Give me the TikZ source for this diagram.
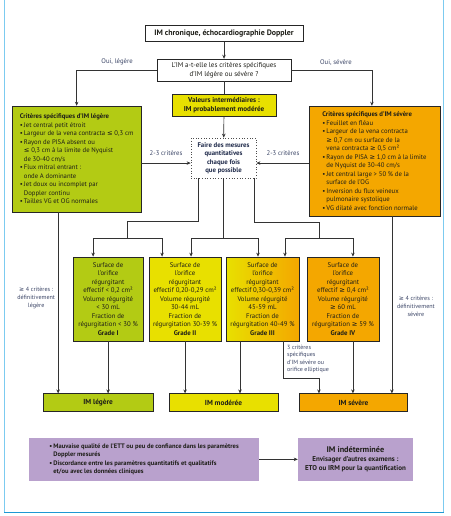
\documentclass[tikz,border=0pt]{standalone}
\usepackage{fontspec}
\setmainfont{PT Sans}
\newfontfamily\symfont{DejaVu Sans}
\usepackage{tikz}
\usetikzlibrary{arrows.meta}

\definecolor{imgreen}{HTML}{B3CB14}
\definecolor{imyellow}{HTML}{E8E000}
\definecolor{imorange}{HTML}{F4A700}
\definecolor{impurple}{HTML}{B9A1CD}
\definecolor{imframe}{HTML}{7CCBF0}
\definecolor{imframedark}{HTML}{1E98D3}
\definecolor{imtext}{HTML}{1E1E18}
\definecolor{imnavy}{HTML}{1F2A4A}
\definecolor{imlabel}{HTML}{3B4566}

\newcommand{\sge}{{\symfont ≥}}
\newcommand{\sle}{{\symfont ≤}}
\newcommand{\bul}{\textbullet\,}
\newcommand{\ind}{\phantom{\textbullet\,}}

\begin{document}
\begin{tikzpicture}[x=1pt, y=-1pt,
		imbox/.style={draw=black!85, line width=0.7pt, inner sep=2pt, text=imtext, font=\fontsize{6.7}{8.5}\selectfont},
		critbox/.style={imbox, align=left},
		gradebox/.style={imbox, align=center, minimum height=84pt, font=\fontsize{6.8}{8.5}\selectfont},
		resbox/.style={imbox, line width=0.9pt, minimum width=109pt, minimum height=18pt, font=\bfseries\fontsize{7.3}{8}\selectfont},
		purplebox/.style={fill=impurple, text=imtext, inner sep=2pt, minimum height=43pt, font=\bfseries\fontsize{6.5}{8.5}\selectfont},
		lbl/.style={text=imlabel, inner sep=0pt, font=\fontsize{6.7}{7.5}\selectfont},
		wire/.style={draw=black!80, line width=0.7pt},
		arr/.style={wire, -{Stealth[length=4pt, width=3.5pt]}}]
		\draw[use as bounding box, transparent] (0,0) rectangle (450,516);

		% FRAME
		\draw[imframe, line width=1.2pt] (4,-5) -- (4,513) -- (444,513) -- (444,-5);
		\draw[imframedark, line width=1.2pt] (4,513) -- (444,513);

		% Grade box.
		% 1st argument: node name, 2nd: fill options, 3rd: x centre, 4th: width
		% 5th-7th: effective surface, volume, fraction, 8th: grade number
		\newcommand{\gradeBox}[8]{
			\node[gradebox, #2, minimum width=#4] (#1) at (#3,299) {Surface de\\l'orifice\\régurgitant\\effectif #5\\Volume régurgité\\#6\\Fraction de\\régurgitation #7\\\textbf{Grade #8}};
		}

		% TOP
		\node[imbox, font=\bfseries\fontsize{7.9}{8}\selectfont, minimum width=158pt, minimum height=16pt] (chron) at (224,33) {IM chronique, échocardiographie Doppler};
		\node[imbox, align=center, font=\fontsize{7}{9}\selectfont, minimum width=134pt, minimum height=22pt] (quest) at (224,70) {L'IM a-t-elle les critères spécifiques\\d'IM légère ou sévère ?};
		\node[imbox, fill=imyellow, align=center, font=\bfseries\fontsize{7.1}{8.3}\selectfont, minimum width=104pt, minimum height=22pt] (interm) at (224,105) {Valeurs intermédiaires :\\IM probablement modérée};
		\node[imbox, draw=black!70, dotted, line width=0.8pt, align=center, text=imnavy, font=\bfseries\fontsize{6.8}{8.5}\selectfont, minimum width=65pt, minimum height=40pt] (mesure) at (223.5,158) {Faire des mesures\\quantitatives\\chaque fois\\que possible};

		\node[lbl] (ouileg) at (117,62) {Oui, légère};
		\node[lbl] (ouisev) at (336,62) {Oui, sévère};

		% SPECIFIC CRITERIA
		\node[critbox, fill=imgreen, minimum width=129pt, minimum height=106pt] (legcrit) at (76.5,159) {\textbf{Critères spécifiques d'IM légère}\\
			\bul Jet central petit étroit\\
			\bul Largeur de la vena contracta \sle{} 0,3 cm\\
			\bul Rayon de PISA absent ou\\
			\ind\sle{} 0,3 cm à la limite de Nyquist\\
			\ind de 30-40 cm/s\\
			\bul Flux mitral entrant :\\
			\ind onde A dominante\\
			\bul Jet doux ou incomplet par\\
			\ind Doppler continu\\
			\bul Tailles VG et OG normales};
		\node[critbox, fill=imorange, minimum width=131pt, minimum height=110pt] (sevcrit) at (374.5,161) {\textbf{Critères spécifiques d'IM sévère}\\
			\bul Feuillet en fléau\\
			\bul Largeur de la vena contracta\\
			\ind\sge{} 0,7 cm ou surface de la\\
			\ind vena contracta \sge{} 0,5 cm²\\
			\bul Rayon de PISA \sge{} 1,0 cm à la limite\\
			\ind de Nyquist de 30-40 cm/s\\
			\bul Jet central large > 50 \% de la\\
			\ind surface de l'OG\\
			\bul Inversion du flux veineux\\
			\ind pulmonaire systolique\\
			\bul VG dilaté avec fonction normale};

		\node[lbl] (critg) at (166,153) {2-3 critères};
		\node[lbl] (critd) at (283,153) {2-3 critères};

		% GRADES
		\gradeBox{gI}{fill=imgreen}{108}{70pt}{< 0,2 cm²}{< 30 mL}{< 30 \%}{I}
		\gradeBox{gII}{fill=imyellow}{185}{72pt}{0,20-0,29 cm²}{30-44 mL}{30-39 \%}{II}
		\gradeBox{gIII}{left color=imyellow, right color=imorange}{262.5}{73pt}{0,30-0,39 cm²}{45-59 mL}{40-49 \%}{III}
		\gradeBox{gIV}{fill=imorange}{343}{72pt}{\sge{} 0,4 cm²}{\sge{} 60 mL}{\sge{} 59 \%}{IV}

		\node[lbl, align=center, font=\fontsize{6.1}{8}\selectfont] (defleg) at (36,298) {\sge{} 4 critères :\\définitivement\\légère};
		\node[lbl, align=center, font=\fontsize{6.1}{8}\selectfont] (defsev) at (416,306) {\sge{} 4 critères :\\définitivement\\sévère};
		\node[lbl, align=left, anchor=north west, font=\fontsize{6}{7.5}\selectfont] (ellip) at (287,345) {3 critères\\spécifiques\\d'IM sévère ou\\orifice elliptique};

		% RESULTS
		\node[resbox, fill=imgreen, minimum width=110pt] (resleg) at (98,403) {IM légère};
		\node[resbox, fill=imyellow] (resmod) at (223.5,403) {IM modérée};
		\node[resbox, fill=imorange] (ressev) at (353.5,403) {IM sévère};

		% UNDETERMINED
		\node[purplebox, minimum width=230pt, align=left] (doute) at (144,459.5) {\bul Mauvaise qualité de l'ETT ou peu de confiance dans les paramètres\\\ind Doppler mesurés\\\bul Discordance entre les paramètres quantitatifs et qualitatifs\\\ind et/ou avec les données cliniques};
		\node[purplebox, minimum width=115pt, align=center, font=\bfseries\fontsize{7}{8.7}\selectfont] (indet) at (355.5,459.5) {{\fontsize{8.2}{9}\selectfont IM indéterminée}\\Envisager d'autres examens :\\ETO ou IRM pour la quantification};

		% CONNECTORS
		\draw[arr] (chron) -- (quest);
		\draw[arr] (quest.west) -| (legcrit.north);
		\draw[arr] (quest.east) -| ([xshift=-2.5pt]sevcrit.north);
		\draw[wire] (quest) -- (interm);
		\draw[arr] (interm) -- (mesure);

		\coordinate (inL) at ([yshift=-5pt]mesure.west);
		\coordinate (inR) at ([yshift=-5pt]mesure.east);
		\draw[arr] (legcrit.east |- inL) -- (inL);
		\draw[arr] (sevcrit.west |- inR) -- (inR);

		\coordinate (kL) at (127,221);
		\coordinate (jL) at (127,238);
		\coordinate (kR) at (319,222);
		\coordinate (jR) at (319,238);
		\coordinate (kE) at (319,378);
		\draw[wire] ([xshift=-25.5pt]mesure.south) |- (kL) -- (jL);
		\draw[arr] (jL) -| ([xshift=-15pt]gI.north);
		\draw[arr] (jL) -| ([xshift=-23pt]gII.north);
		\draw[wire] (mesure.south) -- (mesure.south |- jL);
		\draw[arr] (mesure.south |- jL) -| ([xshift=6pt]gII.north);
		\draw[arr] (mesure.south |- jL) -| ([xshift=-4.5pt]gIII.north);
		\draw[wire] ([xshift=30.5pt]mesure.south) |- (kR) -- (jR);
		\draw[arr] (jR) -| ([xshift=22.5pt]gIII.north);
		\draw[arr] (jR) -| ([xshift=10pt]gIV.north);

		\draw[arr] ([xshift=-18.5pt]legcrit.south) -- ([xshift=-18.5pt]legcrit.south |- resleg.north);
		\draw[arr] (gI.south) -- (gI.south |- resleg.north);
		\draw[arr] (gII.south) -- (gII.south |- resmod.north);
		\draw[arr] ([xshift=-22.5pt]gIII.south) -- ([xshift=-22.5pt]gIII.south |- resmod.north);
		\draw[arr] ([xshift=20.5pt]gIII.south) |- (kE) -| ([xshift=-34.5pt]ressev.north);
		\draw[arr] ([xshift=10pt]gIV.south) -- ([xshift=10pt]gIV.south |- ressev.north);
		\draw[arr] ([xshift=17.5pt]sevcrit.south) -- ([xshift=17.5pt]sevcrit.south |- ressev.north);

		\draw[arr] (doute) -- (indet);
	\end{tikzpicture}
\end{document}
